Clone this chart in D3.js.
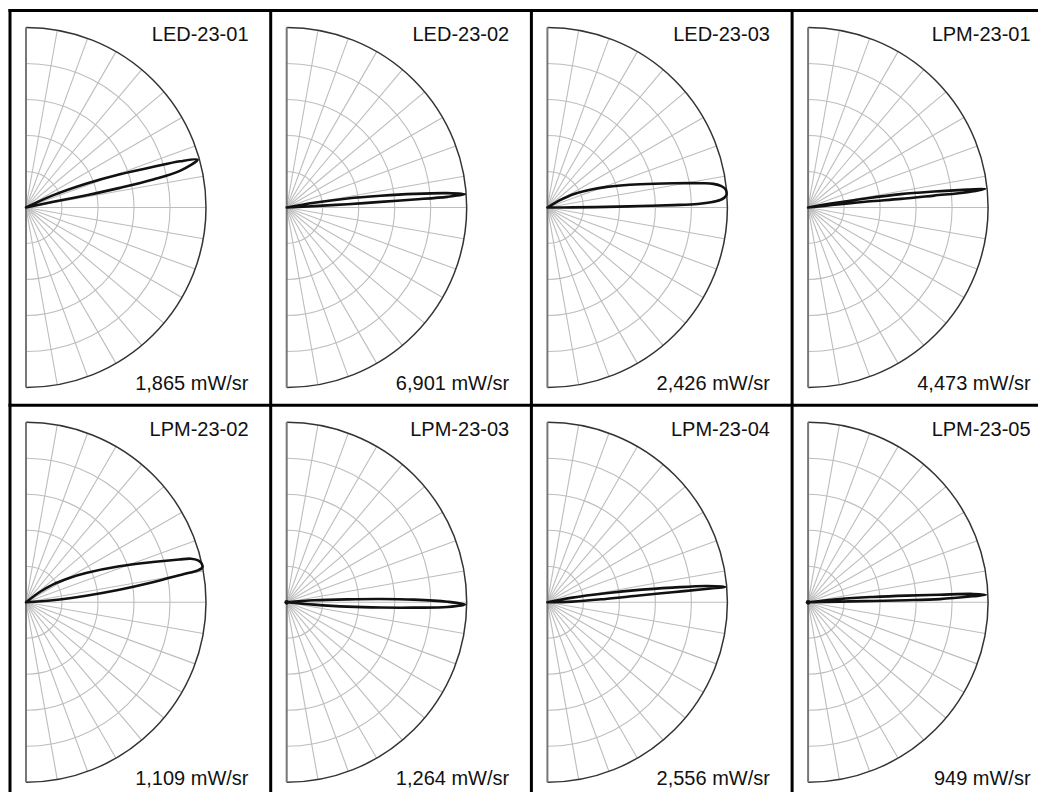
<!DOCTYPE html>
<html>
<head>
<meta charset="utf-8">
<script src="https://cdn.jsdelivr.net/npm/d3@7"></script>
<style>
  html, body { margin: 0; padding: 0; background: #fff; }
  svg { display: block; }
  text { font-family: "Liberation Sans", Arial, Helvetica, sans-serif; }
</style>
</head>
<body>
<svg id="chart" width="1038" height="792"></svg>
<script>
// ---------- data ----------
const panelNames = ["LED-23-01", "LED-23-02", "LED-23-03", "LPM-23-01",
                    "LPM-23-02", "LPM-23-03", "LPM-23-04", "LPM-23-05"];
const peakIntensity = [1865, 6901, 2426, 4473, 1109, 1264, 2556, 949];
const intensityUnit = "mW/sr";
// small residual emission around the source (relative intensity)
const backLobe = [0, 0, 0, 0, 0, 0.013, 0, 0.013];

const ringTicks = [0.2, 0.4, 0.6, 0.8, 1.0];
const spokeAngles = [-80, -70, -60, -50, -40, -30, -20, -10, 0, 10, 20, 30, 40, 50, 60, 70, 80];

// lobe outlines: [angle in degrees (0 = axis, + up), relative intensity]
const lobeLED2301 = [[11.7, 0], [11.7, 0.155], [11.5, 0.344], [11.8, 0.533], [12.4, 0.724], [13.4, 0.879],
  [15.6, 0.99], [16.7, 0.893], [17.7, 0.743], [19.5, 0.554], [21.6, 0.363], [24.3, 0.167], [24.3, 0]];
const lobeLED2302 = [[2.8, 0], [2.8, 0.152], [3.1, 0.338], [3.4, 0.523], [3.6, 0.709], [3.8, 0.894],
  [4.2, 0.993], [5.1, 0.896], [6.1, 0.711], [7.1, 0.526], [8.4, 0.341], [9.7, 0.154], [9.7, 0]];
const lobeLED2303 = [[0, 0], [0.3, 0.144], [0.6, 0.33], [0.9, 0.515], [1.1, 0.70], [1.34, 0.834], [1.9, 0.917],
  [2.63, 0.968], [3.69, 0.994], [4.6, 0.999], [5.9, 0.994], [7.0, 0.974], [8.1, 0.932], [8.9, 0.872],
  [10.9, 0.713], [14.1, 0.531], [19.2, 0.349], [22.5, 0.257], [27.1, 0.162], [30, 0.081], [30, 0]];
const lobeLPM2301 = [[5.9, 0], [5.9, 0.145], [5.8, 0.331], [5.3, 0.517], [5.4, 0.703], [5.5, 0.889],
  [6.0, 0.989], [6.4, 0.891], [7.2, 0.706], [8.2, 0.52], [8.9, 0.333], [9.5, 0.147], [9.5, 0]];
const lobeLPM2302 = [[4.3, 0], [4.3, 0.149], [6.3, 0.336], [7.7, 0.523], [9.0, 0.713], [10.2, 0.903], [10.44, 0.966],
  [11.2, 0.999], [12.5, 0.999], [13.7, 0.984], [14.8, 0.948], [15.6, 0.884], [17.6, 0.739], [21.1, 0.556],
  [26, 0.371], [29.3, 0.276], [33.5, 0.178], [36.9, 0.093], [36.9, 0]];
const lobeLPM2303 = [[-4.9, 0], [-4.9, 0.152], [-4.1, 0.338], [-3.2, 0.522], [-2.4, 0.707], [-1.7, 0.893],
  [-0.7, 0.991], [0.2, 0.893], [1.2, 0.707], [2.0, 0.522], [2.8, 0.338], [4.2, 0.152], [4.2, 0]];
const lobeLPM2304 = [[1.5, 0], [1.5, 0.139], [3.3, 0.324], [4.2, 0.511], [4.6, 0.697], [4.8, 0.883],
  [5.0, 0.991], [5.9, 0.884], [6.7, 0.699], [7.7, 0.514], [8.8, 0.328], [10.6, 0.141], [10.6, 0]];
const lobeLPM2305 = [[1.3, 0], [1.3, 0.176], [1.2, 0.361], [1.2, 0.546], [1.4, 0.732], [2.1, 0.917],
  [2.4, 0.988], [2.9, 0.918], [3.3, 0.733], [3.9, 0.548], [4.7, 0.362], [6.0, 0.177], [6.0, 0]];

const lobes = [lobeLED2301, lobeLED2302, lobeLED2303, lobeLPM2301,
               lobeLPM2302, lobeLPM2303, lobeLPM2304, lobeLPM2305];

// ---------- layout ----------
const svg = d3.select("#chart");
const W = 1038, H = 792;
const gridLeft = 10, gridTop = 10.5, colW = 260.7, rowH = 394.8;
const nCols = 4, nRows = 2;
const R = 180;
const rScale = d3.scaleLinear().domain([0, 1]).range([0, R]);
const toRad = d => d * Math.PI / 180;

svg.append("rect").attr("width", W).attr("height", H).attr("fill", "#fff");

const lobeLine = d3.lineRadial()
  .angle(d => toRad(90 - d[0]))
  .radius(d => rScale(d[1]))
  .curve(d3.curveCatmullRom.alpha(0.5));

panelNames.forEach((name, i) => {
  const col = i % nCols, row = Math.floor(i / nCols);
  const x0 = gridLeft + col * colW, y0 = gridTop + row * rowH;
  const cx = x0 + 16, cy = y0 + 197;
  const g = svg.append("g").attr("transform", `translate(${cx},${cy})`);

  // rings
  ringTicks.slice(0, -1).forEach(t => {
    const p = d3.path();
    p.arc(0, 0, rScale(t), -Math.PI / 2, Math.PI / 2);
    g.append("path").attr("d", p.toString())
      .attr("fill", "none").attr("stroke", "#bdbdbd").attr("stroke-width", 1.1);
  });
  // spokes
  spokeAngles.forEach(a => {
    g.append("line")
      .attr("x1", 0).attr("y1", 0)
      .attr("x2", rScale(1) * Math.cos(toRad(a)))
      .attr("y2", -rScale(1) * Math.sin(toRad(a)))
      .attr("stroke", "#bdbdbd").attr("stroke-width", 1.1);
  });
  // outer arc
  const po = d3.path();
  po.arc(0, 0, rScale(1), -Math.PI / 2, Math.PI / 2);
  g.append("path").attr("d", po.toString())
    .attr("fill", "none").attr("stroke", "#333").attr("stroke-width", 1.5);
  // vertical diameter
  g.append("line")
    .attr("x1", 0).attr("x2", 0)
    .attr("y1", -rScale(1)).attr("y2", rScale(1))
    .attr("stroke", "#777").attr("stroke-width", 2);

  // lobe
  g.append("path").attr("d", lobeLine(lobes[i]))
    .attr("fill", "none").attr("stroke", "#111")
    .attr("stroke-width", 2.6).attr("stroke-linejoin", "round").attr("stroke-linecap", "round");
  if (backLobe[i] > 0) {
    g.append("circle").attr("r", rScale(backLobe[i])).attr("fill", "#111");
  }

  // labels
  svg.append("text")
    .attr("x", x0 + 238.5).attr("y", y0 + 30.5)
    .attr("text-anchor", "end").attr("font-size", 20).attr("fill", "#111")
    .text(name);
  svg.append("text")
    .attr("x", x0 + 238.5).attr("y", y0 + 379.5)
    .attr("text-anchor", "end").attr("font-size", 20).attr("fill", "#111")
    .text(d3.format(",")(peakIntensity[i]) + " " + intensityUnit);
});

// panel borders
const bx = d3.range(nCols + 1).map(c => gridLeft + c * colW);
const by = d3.range(nRows + 1).map(r => gridTop + r * rowH);
bx.forEach(x => {
  svg.append("line").attr("x1", x).attr("x2", x)
    .attr("y1", by[0] - 1.5).attr("y2", by[nRows] + 1.5)
    .attr("stroke", "#000").attr("stroke-width", 3);
});
by.forEach(y => {
  svg.append("line").attr("x1", bx[0] - 1.5).attr("x2", bx[nCols] + 1.5)
    .attr("y1", y).attr("y2", y)
    .attr("stroke", "#000").attr("stroke-width", 3);
});
</script>
</body>
</html>
